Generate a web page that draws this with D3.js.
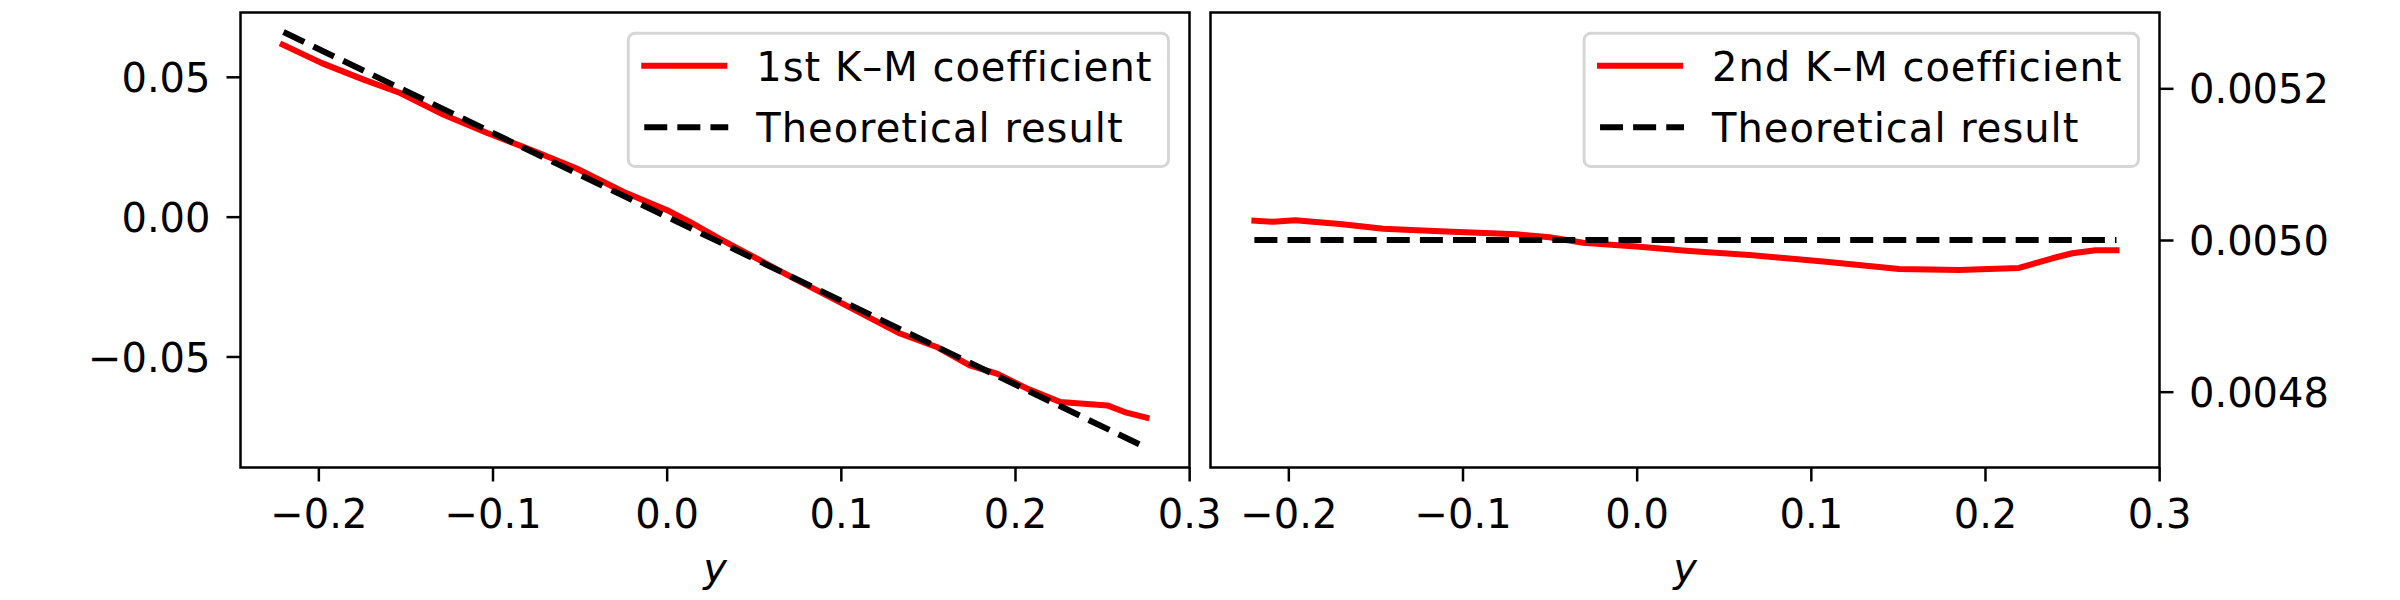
<!DOCTYPE html>
<html>
<head>
<meta charset="utf-8">
<script src="https://cdn.jsdelivr.net/npm/d3@7"></script>
<style>
  body { margin: 0; background: #fff; }
  text { font-family: "DejaVu Sans", sans-serif; }
</style>
</head>
<body>
<script>
  // 1st K-M coefficient (drift)
  const kmX1 = [-0.2205, -0.198, -0.174, -0.153, -0.128, -0.103, -0.078, -0.052, -0.025, 0.0,
                0.013, 0.031, 0.050, 0.073, 0.101, 0.134, 0.155, 0.174, 0.190, 0.207,
                0.226, 0.253, 0.264, 0.2755];
  const km1 = [0.0615, 0.0549, 0.0490, 0.0442, 0.0364, 0.0299, 0.0239, 0.0173, 0.0089, 0.0024,
               -0.0018, -0.0081, -0.0144, -0.0221, -0.0311, -0.0418, -0.0466, -0.0532, -0.0562, -0.0615,
               -0.0663, -0.0675, -0.0701, -0.0719];
  const theoX1 = [-0.22, 0.2755];
  const theo1 = [0.066, -0.08265];

  // 2nd K-M coefficient (diffusion), right panel
  const kmX2 = [-0.2195, -0.2086, -0.1962, -0.1704, -0.1455, -0.1131, -0.0691, -0.0500, -0.0308, 0.0016,
                0.0284, 0.0666, 0.1087, 0.1507, 0.1851, 0.2195, 0.2387, 0.2501, 0.2635, 0.2755];
  const km2 = [0.0050254, 0.0050241, 0.0050259, 0.0050211, 0.0050149, 0.0050114, 0.0050075, 0.0050036, 0.0049964, 0.0049912,
               0.0049859, 0.0049799, 0.0049714, 0.0049618, 0.0049605, 0.0049632, 0.0049759, 0.0049825, 0.0049864, 0.0049864];
  const theoX2 = [-0.2195, 0.2755];
  const theo2 = [0.005, 0.005];

  const xTicks = [-0.2, -0.1, 0.0, 0.1, 0.2, 0.3];
  const yTicks1 = [-0.05, 0.0, 0.05];
  const yTicks2 = [0.0048, 0.0050, 0.0052];
  const labels1 = ["1st K\u2013M coefficient", "Theoretical result"];
  const labels2 = ["2nd K\u2013M coefficient", "Theoretical result"];

  const w = 2400, h = 600;
  const axTop = 12.5, axBottom = 467.5;
  const fs = 40;

  const svg = d3.select("body").append("svg")
    .attr("width", w)
    .attr("height", h);

  function panel(o) {
    const x = d3.scaleLinear().domain([-0.2447, 0.3002]).range([o.left, o.right]);
    const y = d3.scaleLinear().domain(o.yDomain).range([axBottom, axTop]);
    const g = svg.append("g");

    const line = d3.line().x(d => x(d[0])).y(d => y(d[1]));

    g.append("path")
      .datum(o.kx.map((v, i) => [v, o.kv[i]]))
      .attr("d", line)
      .attr("fill", "none")
      .attr("stroke", "#ff0000")
      .attr("stroke-width", 6)
      .attr("stroke-linecap", "square")
      .attr("stroke-linejoin", "round");

    g.append("path")
      .datum(o.tx.map((v, i) => [v, o.tv[i]]))
      .attr("d", line)
      .attr("fill", "none")
      .attr("stroke", "#000")
      .attr("stroke-width", 6)
      .attr("stroke-dasharray", "23,10.1");

    // x axis
    const xa = g.append("g")
      .attr("transform", `translate(0,${axBottom})`)
      .call(d3.axisBottom(x).tickValues(xTicks).tickFormat(d3.format(".1f"))
        .tickSize(14).tickSizeOuter(0).tickPadding(18));

    // y axis
    const ya = g.append("g");
    if (o.yRight) {
      ya.attr("transform", `translate(${o.right},0)`)
        .call(d3.axisRight(y).tickValues(o.yTicks).tickFormat(d3.format(o.yFmt))
          .tickSize(14).tickSizeOuter(0).tickPadding(15.5));
    } else {
      ya.attr("transform", `translate(${o.left},0)`)
        .call(d3.axisLeft(y).tickValues(o.yTicks).tickFormat(d3.format(o.yFmt))
          .tickSize(14).tickSizeOuter(0).tickPadding(16));
    }
    ya.selectAll("text").attr("dy", "0.365em");

    [xa, ya].forEach(a => {
      a.select(".domain").remove();
      a.selectAll("line").attr("stroke", "#000").attr("stroke-width", 2.5);
      a.selectAll("text").attr("fill", "#000")
        .style("font-family", "'DejaVu Sans', sans-serif")
        .style("font-size", fs + "px");
    });

    // frame
    g.append("rect")
      .attr("x", o.left).attr("y", axTop)
      .attr("width", o.right - o.left).attr("height", axBottom - axTop)
      .attr("fill", "none").attr("stroke", "#000").attr("stroke-width", 2.5);

    // x label
    g.append("text")
      .attr("x", (o.left + o.right) / 2)
      .attr("y", 582)
      .attr("text-anchor", "middle")
      .style("font-size", fs + "px")
      .style("font-style", "italic")
      .text("y");

    // legend
    const lg = g.append("g");
    const boxRight = o.right - 21;
    const boxTop = 33.2, boxH = 133.3;
    const rows = lg.selectAll("text.lbl").data(o.labels).enter().append("text")
      .attr("class", "lbl")
      .style("font-size", fs + "px")
      .style("letter-spacing", "1px")
      .attr("fill", "#000")
      .text(d => d);
    const tw = d3.max(rows.nodes(), n => n.getComputedTextLength());
    const textX = boxRight - 16 - tw;
    const boxLeft = textX - 32 - 80 - 16;
    lg.insert("rect", "text")
      .attr("x", boxLeft).attr("y", boxTop)
      .attr("width", boxRight - boxLeft).attr("height", boxH)
      .attr("rx", 7).attr("ry", 7)
      .attr("fill", "#fff").attr("fill-opacity", 0.8)
      .attr("stroke", "#d6d6d6").attr("stroke-width", 3);
    rows.attr("x", textX).attr("y", (d, i) => boxTop + 47.8 + i * 60.7);

    lg.append("line")
      .attr("x1", textX - 112).attr("x2", textX - 32)
      .attr("y1", boxTop + 32.5).attr("y2", boxTop + 32.5)
      .attr("stroke", "#ff0000").attr("stroke-width", 6)
      .attr("stroke-linecap", "square");
    lg.append("line")
      .attr("x1", textX - 112).attr("x2", textX - 28)
      .attr("y1", boxTop + 94).attr("y2", boxTop + 94)
      .attr("stroke", "#000").attr("stroke-width", 6)
      .attr("stroke-dasharray", "23,10.1");
  }

  panel({
    left: 240.5, right: 1189.5,
    yDomain: [-0.0897, 0.0730], yTicks: yTicks1, yFmt: ".2f", yRight: false,
    kx: kmX1, kv: km1, tx: theoX1, tv: theo1, labels: labels1
  });
  panel({
    left: 1210.5, right: 2159.5,
    yDomain: [0.0047, 0.0053], yTicks: yTicks2, yFmt: ".4f", yRight: true,
    kx: kmX2, kv: km2, tx: theoX2, tv: theo2, labels: labels2
  });
</script>
</body>
</html>
